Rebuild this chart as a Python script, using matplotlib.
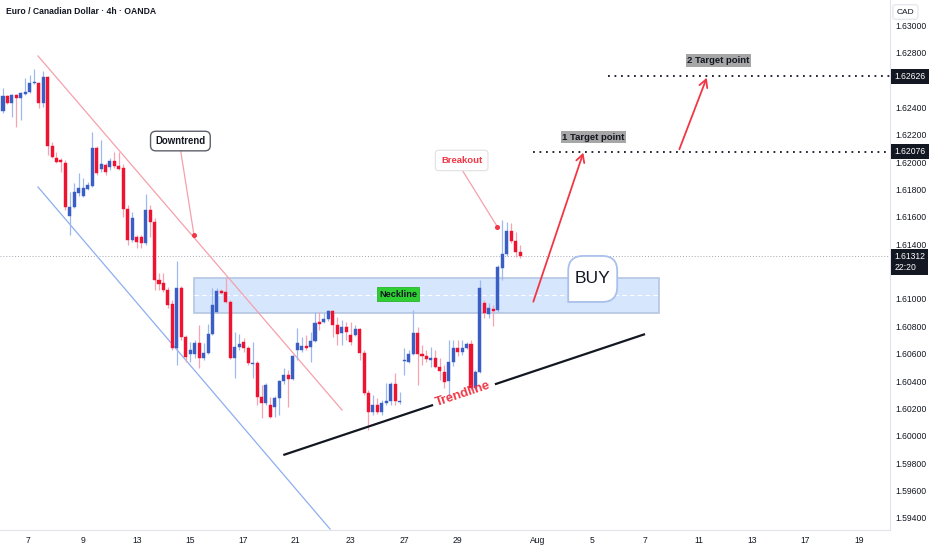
import matplotlib
matplotlib.use("Agg")
import matplotlib.pyplot as plt
import numpy as np
from matplotlib.path import Path
from matplotlib.patches import PathPatch, Rectangle
import matplotlib.transforms as mtransforms

plt.rcParams['font.family'] = ['Liberation Sans', 'DejaVu Sans']

# ---------------- data (EUR/CAD 4h candles) ----------------
opens = [1.62374, 1.62483, 1.62432, 1.62491, 1.62469, 1.62498, 1.62512, 1.62578, 1.62578, 1.62432,
         1.62622, 1.62118, 1.62030, 1.62015, 1.61993, 1.61606, 1.61672, 1.61774, 1.61752, 1.61803,
         1.61825, 1.62103, 1.61950, 1.61979, 1.61964, 1.62008, 1.61972, 1.61957, 1.61657, 1.61431,
         1.61453, 1.61453, 1.61409, 1.61650, 1.61562, 1.61138, 1.61116, 1.61065, 1.60963, 1.60641,
         1.61080, 1.60722, 1.60597, 1.60597, 1.60678, 1.60568, 1.60605, 1.60743, 1.60904, 1.61058,
         1.61050, 1.60977, 1.60568, 1.60648, 1.60685, 1.60641, 1.60524, 1.60531, 1.60283, 1.60239,
         1.60224, 1.60210, 1.60276, 1.60400, 1.60444, 1.60415, 1.60627, 1.60627, 1.60656, 1.60648,
         1.60692, 1.60831, 1.60831, 1.60853, 1.60912, 1.60809, 1.60751, 1.60795, 1.60736, 1.60736,
         1.60780, 1.60605, 1.60312, 1.60173, 1.60224, 1.60173, 1.60239, 1.60254, 1.60378, 1.60246,
         1.60546, 1.60539, 1.60597, 1.60751, 1.60597, 1.60583, 1.60553, 1.60568, 1.60502, 1.60466,
         1.60400, 1.60539, 1.60641, 1.60612, 1.60641, 1.60670, 1.60349, 1.60466, 1.60970, 1.60890,
         1.60926, 1.60919, 1.61226, 1.61328, 1.61496, 1.61423, 1.61343]
closes = [1.62483, 1.62432, 1.62491, 1.62469, 1.62505, 1.62512, 1.62578, 1.62586, 1.62432, 1.62622,
          1.62118, 1.62037, 1.62001, 1.62001, 1.61672, 1.61672, 1.61781, 1.61811, 1.61811, 1.61833,
          1.62103, 1.61920, 1.61986, 1.61928, 1.62008, 1.61972, 1.61950, 1.61657, 1.61431, 1.61591,
          1.61416, 1.61409, 1.61650, 1.61562, 1.61138, 1.61109, 1.61065, 1.60955, 1.60641, 1.61080,
          1.60722, 1.60575, 1.60627, 1.60678, 1.60568, 1.60605, 1.60743, 1.60955, 1.61058, 1.61043,
          1.60977, 1.60568, 1.60648, 1.60670, 1.60641, 1.60531, 1.60531, 1.60283, 1.60239, 1.60371,
          1.60137, 1.60276, 1.60400, 1.60444, 1.60415, 1.60583, 1.60678, 1.60656, 1.60641, 1.60692,
          1.60824, 1.60817, 1.60853, 1.60912, 1.60809, 1.60743, 1.60795, 1.60758, 1.60685, 1.60780,
          1.60605, 1.60312, 1.60173, 1.60224, 1.60173, 1.60239, 1.60254, 1.60378, 1.60254, 1.60254,
          1.60553, 1.60597, 1.60751, 1.60597, 1.60583, 1.60561, 1.60568, 1.60502, 1.60473, 1.60393,
          1.60539, 1.60641, 1.60612, 1.60641, 1.60670, 1.60349, 1.60466, 1.61080, 1.60897, 1.60934,
          1.60912, 1.61233, 1.61328, 1.61496, 1.61423, 1.61343, 1.61312]
highs = [1.62542, 1.62491, 1.62498, 1.62498, 1.62512, 1.62615, 1.62637, 1.62681, 1.62586, 1.62666,
         1.62629, 1.62147, 1.62074, 1.62030, 1.62015, 1.61781, 1.61847, 1.61920, 1.61884, 1.61855,
         1.62220, 1.62118, 1.62162, 1.61993, 1.62030, 1.62074, 1.62074, 1.61986, 1.61686, 1.61635,
         1.61467, 1.61467, 1.61767, 1.61686, 1.61591, 1.61189, 1.61189, 1.61087, 1.60992, 1.61277,
         1.61094, 1.60736, 1.60685, 1.60700, 1.60809, 1.60678, 1.60817, 1.61080, 1.61080, 1.61072,
         1.61153, 1.60992, 1.60758, 1.60743, 1.60714, 1.60656, 1.60685, 1.60546, 1.60371, 1.60385,
         1.60283, 1.60290, 1.60407, 1.60495, 1.60480, 1.60590, 1.60787, 1.60722, 1.60736, 1.60758,
         1.60904, 1.60904, 1.60897, 1.60919, 1.60919, 1.60868, 1.60846, 1.60831, 1.60831, 1.60809,
         1.60787, 1.60627, 1.60334, 1.60298, 1.60276, 1.60261, 1.60385, 1.60393, 1.60458, 1.60319,
         1.60641, 1.60627, 1.60919, 1.60795, 1.60663, 1.60627, 1.60648, 1.60627, 1.60568, 1.60517,
         1.60700, 1.60700, 1.60700, 1.60700, 1.60685, 1.60700, 1.60480, 1.61138, 1.60992, 1.60970,
         1.60955, 1.61248, 1.61577, 1.61562, 1.61555, 1.61489, 1.61394]
lows = [1.62359, 1.62425, 1.62330, 1.62257, 1.62308, 1.62491, 1.62505, 1.62571, 1.62396, 1.62403,
        1.62052, 1.62030, 1.61993, 1.61928, 1.61650, 1.61467, 1.61665, 1.61752, 1.61745, 1.61796,
        1.61818, 1.61906, 1.61928, 1.61906, 1.61942, 1.61957, 1.61942, 1.61599, 1.61394, 1.61416,
        1.61372, 1.61372, 1.61394, 1.61453, 1.61065, 1.61065, 1.61050, 1.60934, 1.60627, 1.60517,
        1.60700, 1.60539, 1.60539, 1.60568, 1.60495, 1.60553, 1.60597, 1.60736, 1.60897, 1.61036,
        1.60970, 1.60561, 1.60422, 1.60627, 1.60612, 1.60517, 1.60422, 1.60224, 1.60129, 1.60224,
        1.60129, 1.60137, 1.60151, 1.60378, 1.60210, 1.60407, 1.60553, 1.60612, 1.60627, 1.60539,
        1.60685, 1.60773, 1.60824, 1.60838, 1.60722, 1.60663, 1.60663, 1.60700, 1.60663, 1.60729,
        1.60553, 1.60298, 1.60042, 1.60151, 1.60159, 1.60151, 1.60224, 1.60224, 1.60224, 1.60232,
        1.60444, 1.60531, 1.60590, 1.60371, 1.60517, 1.60539, 1.60502, 1.60495, 1.60407, 1.60349,
        1.60283, 1.60510, 1.60583, 1.60590, 1.60634, 1.60334, 1.60334, 1.60458, 1.60860, 1.60860,
        1.60802, 1.60904, 1.61138, 1.61314, 1.61409, 1.61306, 1.61299]

date_labels = ['7', '9', '13', '15', '17', '21', '23', '27', '29', 'Aug', '5', '7', '11', '13', '17', '19']
date_positions = [5.7, 17.9, 30.1, 42.0, 53.9, 65.7, 77.9, 90.0, 101.9, 120.0, 132.2, 144.0, 156.2, 168.1, 179.9, 192.1]
# 1.612 and 1.626 are hidden behind the price boxes in the reference
price_ticks = [1.594, 1.596, 1.598, 1.600, 1.602, 1.604, 1.606, 1.608, 1.610,
               1.614, 1.616, 1.618, 1.620, 1.622, 1.624, 1.628, 1.630]

last_price = 1.61312
target1 = 1.62076
target2 = 1.62626
neck_low, neck_high, neck_mid = 1.60897, 1.61155, 1.61028
neck_x0, neck_x1 = 42.85, 147.2

# drawing objects (index / price)
down_chan = ([7.85, 76.06], [1.62776, 1.60188])
low_chan = ([7.85, 73.37], [1.61818, 1.59318])
trend_pts = ([62.89, 144.04], [1.59859, 1.60743])
trend_gap = (0.414, 0.585)
arrow1 = ((118.98, 1.60980), (130.2, 1.62069))
arrow2 = ((151.74, 1.62094), (157.89, 1.62617))

BLUE = '#3a5ec4'
RED = '#ee1331'
BLUE_W = '#9fb8f0'
RED_W = '#f6a4b2'
TV_RED = '#f23645'
INK = '#131722'

fig = plt.figure(figsize=(9.32, 5.5), dpi=100)
fig.patch.set_facecolor('white')
ax = fig.add_axes([0, 20 / 550, 890 / 932, 530 / 550])
ax.set_facecolor('white')

ax.set_xlim(-0.673, 199.0)
ax.set_ylim(1.59311, 1.63185)

# neckline zone
ax.add_patch(Rectangle((neck_x0, neck_low), neck_x1 - neck_x0, neck_high - neck_low,
                       facecolor='#d5e6fd', edgecolor='#b4c6e2', lw=1.2, zorder=1))
ax.hlines(neck_mid, neck_x0, neck_x1, colors='white', linestyles=(0, (4, 3)), lw=0.8, zorder=1.5)

# last price line
ax.axhline(last_price, color='#a3a6af', lw=0.7, ls=(0, (1, 2)), zorder=1.6)

# channel lines
ax.plot(*down_chan, color='#f5a0ab', lw=0.9, zorder=2)
ax.plot(*low_chan, color='#8eaef0', lw=0.9, zorder=2)

# candles
o = np.array(opens); c = np.array(closes); h = np.array(highs); l = np.array(lows)
xs = np.arange(len(o))
up = c >= o
ax.vlines(xs, l, h, colors=np.where(up, BLUE_W, RED_W), lw=0.9, zorder=3)
hts = np.maximum(np.abs(c - o), 0.00008)
bots = (o + c) / 2 - hts / 2
ax.bar(xs, hts, bottom=bots, width=0.68, color=np.where(up, BLUE, RED),
       edgecolor=np.where(up, BLUE, RED), linewidth=0.3, zorder=4)

# target lines
ax.hlines(target1, arrow1[0][0], 199.0, colors=INK, lw=1.3, linestyles=(0, (1, 2.6)), zorder=5)
ax.hlines(target2, 135.7, 199.0, colors=INK, lw=1.3, linestyles=(0, (1, 2.6)), zorder=5)

# trendline with gap for text
(tx0, tx1), (ty0, ty1) = trend_pts
for a, b in [(0, trend_gap[0]), (trend_gap[1], 1)]:
    ax.plot([tx0 + a * (tx1 - tx0), tx0 + b * (tx1 - tx0)],
            [ty0 + a * (ty1 - ty0), ty0 + b * (ty1 - ty0)], color=INK, lw=1.6, zorder=5,
            solid_capstyle='butt')
ax.text(103.27, 1.60305, 'Trendline', rotation=18.5, rotation_mode='anchor', ha='center',
        va='center', color=TV_RED, fontsize=9.3, fontweight='bold', zorder=6)

# arrows
for (p0, p1) in [arrow1, arrow2]:
    ax.annotate('', xy=p1, xytext=p0,
                arrowprops=dict(arrowstyle='->,head_length=0.55,head_width=0.3', color=TV_RED,
                                lw=1.3, shrinkA=0, shrinkB=0), zorder=6)

# Downtrend label
ax.plot([39.87, 42.85], [1.62081, 1.61467], color='#f5a0ab', lw=0.9, zorder=6)
ax.plot([42.85], [1.61467], 'o', ms=2.6, color=TV_RED, zorder=6)
ax.text(39.8, 1.62154, 'Downtrend', ha='center', va='center', fontsize=6.9, fontweight='bold',
        color=INK, zorder=7,
        bbox=dict(boxstyle='round,pad=0.5,rounding_size=0.55', fc='white', ec='#5d606b', lw=1.0))

# Breakout label
ax.plot([102.92, 110.9], [1.61947, 1.61528], color='#f5a0ab', lw=0.9, zorder=6)
ax.plot([110.9], [1.61528], 'o', ms=2.6, color=TV_RED, zorder=6)
ax.text(102.9, 1.62012, 'Breakout', ha='center', va='center', fontsize=6.8, fontweight='bold',
        color=TV_RED, zorder=7,
        bbox=dict(boxstyle='round,pad=0.6,rounding_size=0.3', fc='white', ec='#e4e4e4', lw=0.9))

# Neckline label
ax.text(88.6, 1.61036, 'Neckline', ha='center', va='center', fontsize=6.6, fontweight='bold',
        color=INK, zorder=7,
        bbox=dict(boxstyle='square,pad=0.22', fc='#2fce32', ec='#2ab52c', lw=0.6))

# target labels
ax.text(132.5, 1.62182, '1 Target point', ha='center', va='center', fontsize=6.8, fontweight='bold',
        color=INK, zorder=7, bbox=dict(boxstyle='square,pad=0.18', fc='#a6a6a6', ec='none'))
ax.text(160.5, 1.62743, '2 Target point', ha='center', va='center', fontsize=6.8, fontweight='bold',
        color=INK, zorder=7, bbox=dict(boxstyle='square,pad=0.18', fc='#a6a6a6', ec='none'))

# BUY bubble (inches around anchor)
bx, by = 132.3, 1.61146
w, hh, r = 0.49, 0.46, 0.15
verts = [(-w / 2, -hh / 2), (w / 2 - r, -hh / 2), (w / 2, -hh / 2), (w / 2, -hh / 2 + r),
         (w / 2, hh / 2 - r), (w / 2, hh / 2), (w / 2 - r, hh / 2), (-w / 2 + r, hh / 2),
         (-w / 2, hh / 2), (-w / 2, hh / 2 - r), (-w / 2, -hh / 2), (-w / 2, -hh / 2)]
codes = [Path.MOVETO, Path.LINETO, Path.CURVE3, Path.CURVE3, Path.LINETO, Path.CURVE3, Path.CURVE3,
         Path.LINETO, Path.CURVE3, Path.CURVE3, Path.LINETO, Path.CLOSEPOLY]
trans = fig.dpi_scale_trans + mtransforms.ScaledTranslation(bx, by, ax.transData)
ax.add_patch(PathPatch(Path(verts, codes), transform=trans, fc='white', ec='#a9c0ec', lw=1.3,
                       zorder=7))
ax.text(bx, by, 'BUY', ha='center', va='center', fontsize=12.5, color=INK, zorder=8)

# axes styling
ax.yaxis.tick_right()
ax.set_yticks(price_ticks)
ax.set_yticklabels([f'{v:.5f}' for v in price_ticks])
ax.set_xticks(date_positions)
ax.set_xticklabels(date_labels)
ax.tick_params(axis='y', length=0, pad=4, labelsize=6.2, labelcolor=INK)
ax.tick_params(axis='x', length=0, pad=4, labelsize=6.2, labelcolor=INK)
for s in ['top', 'left']:
    ax.spines[s].set_visible(False)
for s in ['right', 'bottom']:
    ax.spines[s].set_color('#e0e3eb')
    ax.spines[s].set_linewidth(0.8)

# price labels on right axis
for val, txt, dy in [(target2, '1.62626', 0), (target1, '1.62076', 0),
                     (last_price, '1.61312\n22:20', -4.2)]:
    ax.annotate(txt, xy=(1, val), xycoords=('axes fraction', 'data'), xytext=(3.2, dy),
                textcoords='offset points', ha='left', va='center', fontsize=6.2, color='white',
                linespacing=1.35, annotation_clip=False, zorder=10,
                bbox=dict(boxstyle='square,pad=0.35', fc=INK, ec='none'))

# CAD box and title
fig.text(0.9715, 1 - 12 / 550, 'CAD', ha='center', va='center', fontsize=6, color=INK,
         bbox=dict(boxstyle='round,pad=0.45,rounding_size=0.3', fc='white', ec='#e0e3eb', lw=0.8))
fig.text(6 / 932, 1 - 12 / 550, 'Euro / Canadian Dollar \u00b7 4h \u00b7 OANDA', ha='left', va='center',
         fontsize=6.2, fontweight='bold', color=INK)

fig.savefig('out.png', dpi=100, facecolor='white')
